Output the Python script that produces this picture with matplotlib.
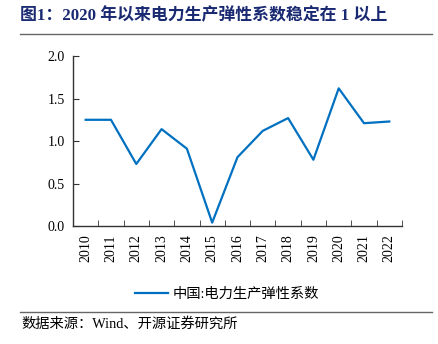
import matplotlib
matplotlib.use("Agg")
import matplotlib.pyplot as plt
import numpy as np

plt.rcParams['font.family'] = ['Liberation Serif', 'Noto Sans CJK SC']

years = ['2010', '2011', '2012', '2013', '2014', '2015', '2016',
         '2017', '2018', '2019', '2020', '2021', '2022']
elasticity = [1.25, 1.25, 0.73, 1.14, 0.91, 0.04, 0.81,
              1.12, 1.27, 0.78, 1.62, 1.21, 1.23]
series_name = '中国:电力生产弹性系数'
title = '图1：2020 年以来电力生产弹性系数稳定在 1 以上'
source = '数据来源：Wind、开源证券研究所'

fig = plt.figure(figsize=(4.38, 3.44), dpi=100)
ax = fig.add_axes([0.1667, 0.343, 0.751, 0.494])

x = np.arange(len(years))
ax.plot(x, elasticity, color='#0070C0', lw=1.6, label=series_name)

ax.set_xlim(-0.5, len(years) - 0.5)
ax.set_ylim(0, 2.0)
ax.set_yticks([0, 0.5, 1.0, 1.5, 2.0])
ax.set_yticklabels(['0.0', '0.5', '1.0', '1.5', '2.0'], fontsize=10)
ax.set_xticks(x)
ax.set_xticklabels(years, rotation=90, fontsize=10)
ax.set_xticks(np.arange(-0.5, len(years)), minor=True)
ax.tick_params(axis='x', which='major', length=0, pad=6)
ax.tick_params(axis='x', which='minor', direction='in', length=4, color='#333333')
ax.tick_params(axis='y', direction='in', length=4, color='#333333', pad=6)

for s in ['top', 'right']:
    ax.spines[s].set_visible(False)
for s in ['left', 'bottom']:
    ax.spines[s].set_color('#333333')
    ax.spines[s].set_linewidth(1.0)

ax.legend(loc='center', bbox_to_anchor=(0.468, -0.4), frameon=False,
          fontsize=10.3, handlelength=2.3, handletextpad=0.3)

fig.text(0.046, 0.955, title, fontsize=12.2, fontweight='bold',
         color='#1A2A72', va='center')
fig.add_artist(plt.Line2D([0.046, 0.986], [0.901, 0.901], color='#666666', lw=1))
fig.add_artist(plt.Line2D([0.046, 0.986], [0.093, 0.093], color='#666666', lw=1))
fig.text(0.048, 0.058, source, fontsize=10.3, va='center')

fig.savefig('out.png', dpi=100)
